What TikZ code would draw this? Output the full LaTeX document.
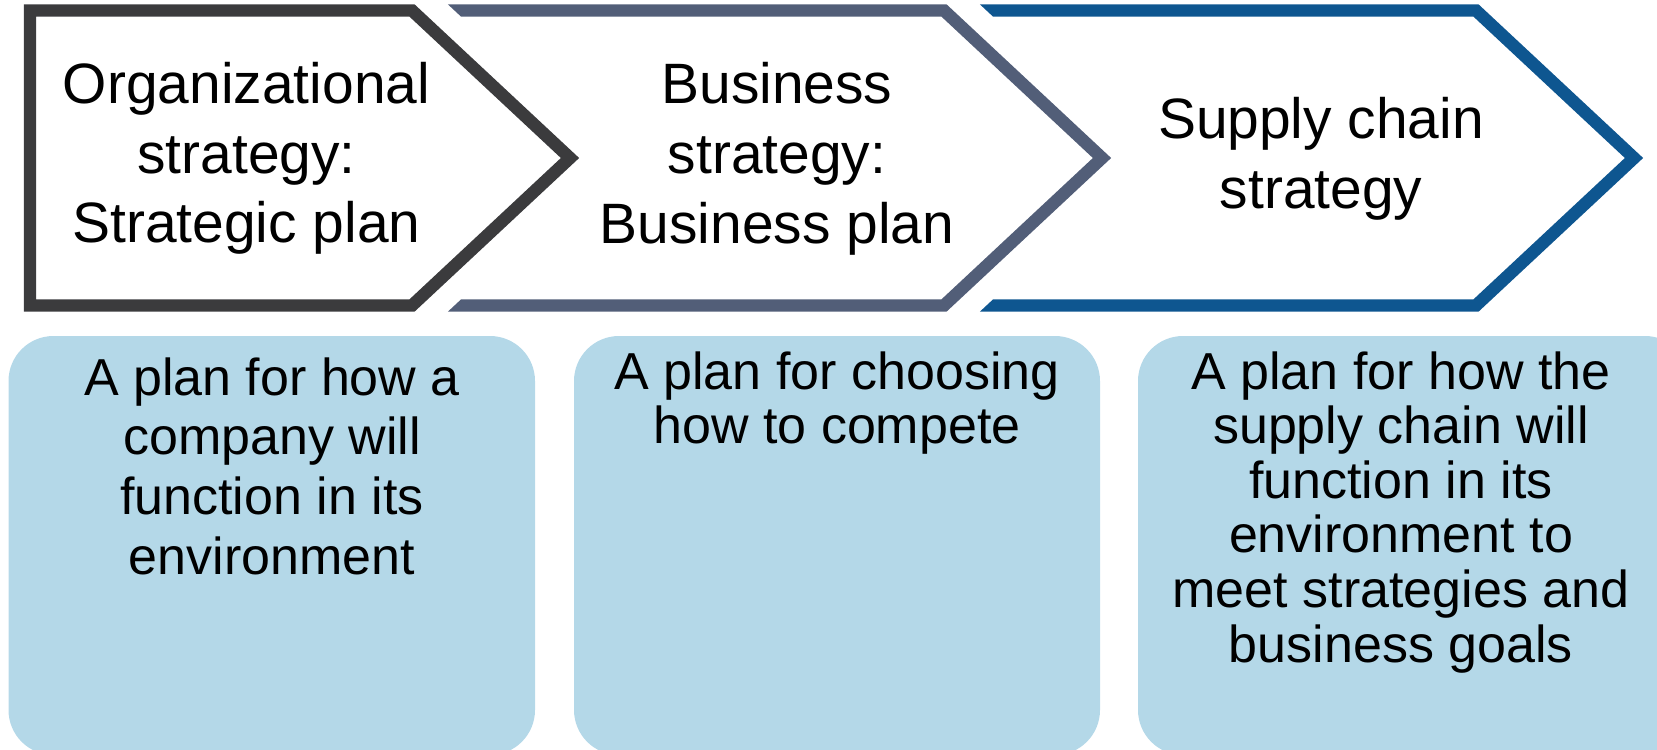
\documentclass[tikz,border=0pt]{standalone}
\usepackage{fontspec}
\setmainfont{Liberation Sans}
\usepackage{tikz}
\definecolor{chevgray}{RGB}{59,59,61}
\definecolor{chevslate}{RGB}{82,94,120}
\definecolor{chevblue}{RGB}{14,86,144}
\definecolor{cardblue}{RGB}{180,216,232}
\tikzstyle{chevline} = [line width=7.1pt, line join=miter]
\tikzstyle{card} = [fill=cardblue, rounded corners=0.9cm]
\tikzstyle{chevtext} = [align=center, anchor=north, inner sep=0pt,
    font=\fontsize{32.4}{39.8}\selectfont]
\tikzstyle{cardtext} = [align=center, anchor=north, inner sep=0pt,
    font=\fontsize{29.6}{31.1}\selectfont]

\begin{document}
\begin{tikzpicture}[x=0.02cm, y=-0.02cm]
  \useasboundingbox (0,0) rectangle (1657,750);
  \begin{scope}
    \clip (986.5-32.7,-20) -- (986.5+158,158) -- (986.5-32.7,336) -- (1700,336) -- (1700,-20) -- cycle;
    \draw [chevline, chevblue] (930,10.5) -- (1476,10.5) -- (1634,158) -- (1476,305.5) -- (930,305.5);
  \end{scope}
  \begin{scope}
    \clip (454.5-32.7,-20) -- (454.5+158,158) -- (454.5-32.7,336) -- (1700,336) -- (1700,-20) -- cycle;
    \draw [chevline, chevslate] (400,10.5) -- (944,10.5) -- (1102,158) -- (944,305.5) -- (400,305.5);
  \end{scope}
  \draw [chevline, chevgray] (30,10.5) -- (412,10.5) -- (570,158) -- (412,305.5) -- (30,305.5) -- cycle;
  \node [chevtext] (c1) at (246.5,61.5) {Organizational\\strategy:\\Strategic plan};
  \node [chevtext] (c2) at (777,62) {Business\\strategy:\\Business plan};
  \node [chevtext] (c3) at (1321,96.5) {Supply chain\\strategy};
  \fill [card] (8.5,336) rectangle (535,755);
  \fill [card] (574,336) rectangle (1100,755);
  \fill [card] (1138,336) rectangle (1690,755);
  \node [cardtext, font=\fontsize{29.6}{34.1}\selectfont] (d1) at (272,357)
  {A plan for how a\\company will\\function in its\\environment};
  \node [cardtext] (d2) at (837,351) {A plan for choosing\\how to compete};
  \node [cardtext] (d3) at (1401,351)
  {A plan for how the\\supply chain will\\function in its\\environment to\\meet strategies and\\business goals};
\end{tikzpicture}
\end{document}
